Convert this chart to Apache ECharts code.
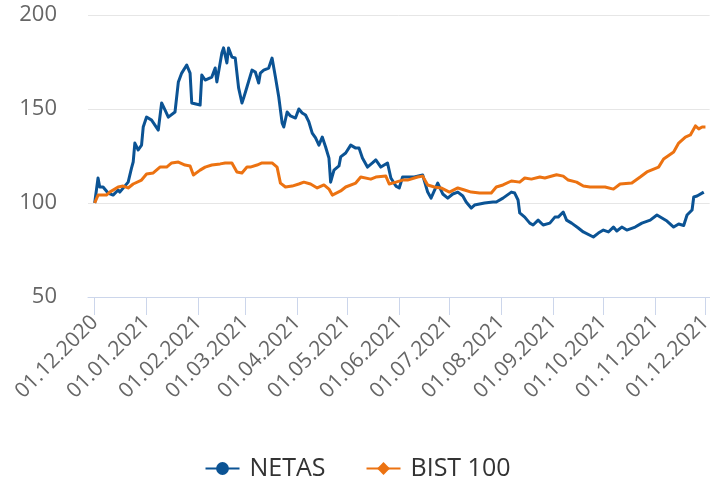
<!DOCTYPE html>
<html>
<head>
<meta charset="utf-8">
<title>NETAS vs BIST 100</title>
<script src="https://cdn.jsdelivr.net/npm/echarts@6/dist/echarts.min.js"></script>
<style>
  html, body { margin: 0; padding: 0; background: #fff; }
  #chart { width: 715px; height: 479px; }
</style>
</head>
<body>
<div id="chart"></div>
<script>
// month ticks on the x axis
const tickDates = [
  '2020-12-01', '2021-01-01', '2021-02-01', '2021-03-01', '2021-04-01', '2021-05-01',
  '2021-06-01', '2021-07-01', '2021-08-01', '2021-09-01', '2021-10-01', '2021-11-01', '2021-12-01'
];
const yTicks = [50, 100, 150, 200];

// NETAS (rebased to 100)
const netasDates = [
  '2020-12-01', '2020-12-03', '2020-12-04', '2020-12-06', '2020-12-09', '2020-12-12', '2020-12-15', '2020-12-16',
  '2020-12-21', '2020-12-23', '2020-12-24', '2020-12-25', '2020-12-27', '2020-12-29', '2020-12-30', '2021-01-01',
  '2021-01-04', '2021-01-08', '2021-01-10', '2021-01-12', '2021-01-14', '2021-01-18', '2021-01-20', '2021-01-22',
  '2021-01-25', '2021-01-27', '2021-01-28', '2021-02-02', '2021-02-03', '2021-02-05', '2021-02-09', '2021-02-11',
  '2021-02-12', '2021-02-15', '2021-02-16', '2021-02-18', '2021-02-19', '2021-02-21', '2021-02-23', '2021-02-25',
  '2021-02-27', '2021-02-28', '2021-03-02', '2021-03-05', '2021-03-07', '2021-03-09', '2021-03-10', '2021-03-12',
  '2021-03-15', '2021-03-17', '2021-03-19', '2021-03-21', '2021-03-23', '2021-03-24', '2021-03-26', '2021-03-28',
  '2021-03-31', '2021-04-02', '2021-04-04', '2021-04-06', '2021-04-08', '2021-04-10', '2021-04-12', '2021-04-14',
  '2021-04-16', '2021-04-18', '2021-04-20', '2021-04-21', '2021-04-23', '2021-04-26', '2021-04-27', '2021-04-30',
  '2021-05-03', '2021-05-06', '2021-05-08', '2021-05-10', '2021-05-13', '2021-05-16', '2021-05-18', '2021-05-21',
  '2021-05-25', '2021-05-27', '2021-05-30', '2021-06-01', '2021-06-03', '2021-06-06', '2021-06-10', '2021-06-15',
  '2021-06-18', '2021-06-20', '2021-06-24', '2021-06-27', '2021-06-30', '2021-07-03', '2021-07-06', '2021-07-09',
  '2021-07-11', '2021-07-14', '2021-07-16', '2021-07-22', '2021-07-27', '2021-07-29', '2021-08-02', '2021-08-07',
  '2021-08-09', '2021-08-11', '2021-08-12', '2021-08-15', '2021-08-18', '2021-08-20', '2021-08-23', '2021-08-26',
  '2021-08-30', '2021-09-02', '2021-09-04', '2021-09-07', '2021-09-09', '2021-09-12', '2021-09-16', '2021-09-19',
  '2021-09-25', '2021-09-28', '2021-10-01', '2021-10-04', '2021-10-07', '2021-10-09', '2021-10-12', '2021-10-15',
  '2021-10-20', '2021-10-24', '2021-10-29', '2021-11-02', '2021-11-05', '2021-11-08', '2021-11-12', '2021-11-15',
  '2021-11-18', '2021-11-20', '2021-11-23', '2021-11-24', '2021-11-26', '2021-11-30'
];
const netasValues = [
  100, 113.3, 108.5, 108.5, 105.3, 104.2, 106.9, 105.8,
  111.1, 118.6, 121.8, 131.9, 128.2, 130.8, 140.4, 145.7,
  144.1, 138.8, 153.2, 149.5, 145.7, 148.4, 164.4, 169.1,
  173.4, 169.1, 153.2, 152.1, 168.1, 165.4, 167.0, 171.8,
  164.4, 179.8, 182.5, 174.5, 182.5, 177.6, 177.1, 161.2,
  153.2, 155.8, 161.7, 170.7, 169.7, 163.8, 169.1, 170.7,
  171.8, 177.1, 167.0, 156.4, 142.6, 140.4, 148.4, 146.3,
  145.2, 150.0, 147.9, 146.8, 143.1, 137.2, 134.6, 130.8,
  135.1, 129.8, 123.9, 111.1, 117.5, 119.7, 124.5, 126.6,
  130.8, 129.2, 129.2, 123.9, 119.1, 121.3, 122.9, 119.1,
  121.3, 113.3, 109.0, 108.0, 113.8, 113.8, 113.8, 114.9,
  105.8, 102.6, 110.6, 104.8, 102.6, 104.8, 105.8, 103.7,
  100.5, 97.3, 98.9, 100.0, 100.5, 100.5, 102.6, 105.8,
  105.3, 101.6, 94.7, 92.5, 89.3, 88.3, 90.9, 88.3,
  89.3, 92.5, 92.5, 95.2, 90.9, 89.3, 86.7, 84.6,
  81.9, 84.0, 85.6, 84.6, 87.2, 85.1, 87.2, 85.6,
  87.2, 89.3, 90.9, 93.6, 92.0, 90.4, 87.2, 88.8,
  88.0, 93.6, 96.3, 103.2, 103.7, 105.8
];

// BIST 100 (rebased to 100)
const bistDates = [
  '2020-12-01', '2020-12-03', '2020-12-08', '2020-12-10', '2020-12-15', '2020-12-18', '2020-12-21', '2020-12-24',
  '2020-12-29', '2021-01-01', '2021-01-05', '2021-01-09', '2021-01-13', '2021-01-16', '2021-01-20', '2021-01-24',
  '2021-01-27', '2021-01-29', '2021-02-02', '2021-02-05', '2021-02-09', '2021-02-14', '2021-02-17', '2021-02-21',
  '2021-02-24', '2021-02-27', '2021-03-02', '2021-03-04', '2021-03-08', '2021-03-11', '2021-03-17', '2021-03-20',
  '2021-03-22', '2021-03-25', '2021-03-29', '2021-04-02', '2021-04-05', '2021-04-09', '2021-04-13', '2021-04-17',
  '2021-04-20', '2021-04-22', '2021-04-27', '2021-04-30', '2021-05-06', '2021-05-09', '2021-05-15', '2021-05-18',
  '2021-05-24', '2021-05-26', '2021-05-30', '2021-06-03', '2021-06-06', '2021-06-12', '2021-06-15', '2021-06-18',
  '2021-06-22', '2021-06-26', '2021-07-01', '2021-07-06', '2021-07-10', '2021-07-14', '2021-07-19', '2021-07-26',
  '2021-07-29', '2021-08-02', '2021-08-07', '2021-08-12', '2021-08-15', '2021-08-19', '2021-08-24', '2021-08-27',
  '2021-09-03', '2021-09-07', '2021-09-10', '2021-09-15', '2021-09-19', '2021-09-23', '2021-09-28', '2021-10-02',
  '2021-10-07', '2021-10-11', '2021-10-18', '2021-10-23', '2021-10-27', '2021-11-03', '2021-11-06', '2021-11-12',
  '2021-11-15', '2021-11-19', '2021-11-22', '2021-11-25', '2021-11-27', '2021-11-29', '2021-12-01'
];
const bistValues = [
  100, 104.2, 104.2, 105.8, 108.5, 109.0, 108.0, 110.1,
  112.2, 115.4, 116.0, 119.1, 119.1, 121.3, 121.8, 120.2,
  119.7, 114.9, 117.5, 119.1, 120.2, 120.8, 121.3, 121.3,
  116.5, 116.0, 119.1, 119.1, 120.2, 121.3, 121.3, 119.1,
  110.6, 108.5, 109.0, 110.1, 111.1, 110.1, 108.0, 109.6,
  107.4, 104.2, 106.4, 108.5, 110.6, 113.8, 112.7, 113.8,
  114.3, 110.1, 111.1, 112.2, 112.2, 113.8, 114.3, 109.6,
  108.5, 108.0, 105.8, 108.0, 106.9, 105.8, 105.3, 105.3,
  108.5, 109.6, 111.7, 111.1, 113.3, 112.7, 113.8, 113.3,
  115.0, 114.3, 112.2, 111.1, 109.0, 108.5, 108.5, 108.5,
  107.4, 110.1, 110.6, 113.8, 116.5, 119.1, 123.4, 127.1,
  131.9, 135.1, 136.2, 141.0, 139.4, 140.4, 140.4
];

const seriesNames = ['NETAS', 'BIST 100'];
const seriesColors = ['#0b5394', '#ec7211'];

const toTime = (s) => {
  const p = s.split('-');
  return new Date(+p[0], +p[1] - 1, +p[2]).getTime();
};
const pad = (n) => (n < 10 ? '0' : '') + n;
const fmtDate = (v) => {
  const d = new Date(v);
  return pad(d.getDate()) + '.' + pad(d.getMonth() + 1) + '.' + d.getFullYear();
};
const zip = (dates, values) => dates.map((d, i) => [toTime(d), values[i]]);

const tickTimes = tickDates.map(toTime);
const font = '"Open Sans", "Noto Sans", sans-serif';

const chart = echarts.init(document.getElementById('chart'), null, { renderer: 'canvas' });

// x axis is a value axis holding timestamps, so month ticks can be placed exactly
chart.setOption({
  animation: false,
  backgroundColor: '#ffffff',
  grid: { left: 88, right: 0, top: 15, bottom: 182, containLabel: false },
  legend: {
    top: 451,
    left: 'center',
    itemWidth: 34,
    itemHeight: 16,
    itemGap: 40,
    textStyle: { color: '#333333', fontSize: 25, fontFamily: font, padding: [0, 0, 0, 5] },
    data: seriesNames
  },
  xAxis: {
    type: 'value',
    min: toTime('2020-11-27'),
    max: toTime('2021-12-03') + 12 * 3600 * 1000,
    axisLine: { lineStyle: { color: '#ccd6eb', width: 1 } },
    axisTick: { show: true, length: 18, lineStyle: { color: '#ccd6eb' }, customValues: tickTimes },
    axisLabel: {
      customValues: tickTimes,
      rotate: 45,
      margin: 22,
      color: '#666666',
      fontSize: 21,
      fontFamily: font,
      formatter: (v) => fmtDate(v)
    },
    splitLine: { show: false }
  },
  yAxis: {
    type: 'value',
    min: yTicks[0],
    max: yTicks[yTicks.length - 1],
    interval: 50,
    axisLine: { show: false },
    axisTick: { show: false },
    axisLabel: { color: '#666666', fontSize: 22, fontFamily: font, margin: 31 },
    splitLine: { lineStyle: { color: '#e6e6e6', width: 1 } }
  },
  series: [
    {
      name: seriesNames[0],
      type: 'line',
      symbol: 'circle',
      showSymbol: false,
      color: seriesColors[0],
      lineStyle: { width: 3, join: 'round' },
      data: zip(netasDates, netasValues)
    },
    {
      name: seriesNames[1],
      type: 'line',
      symbol: 'diamond',
      showSymbol: false,
      color: seriesColors[1],
      lineStyle: { width: 3, join: 'round' },
      data: zip(bistDates, bistValues)
    }
  ]
});
</script>
</body>
</html>
